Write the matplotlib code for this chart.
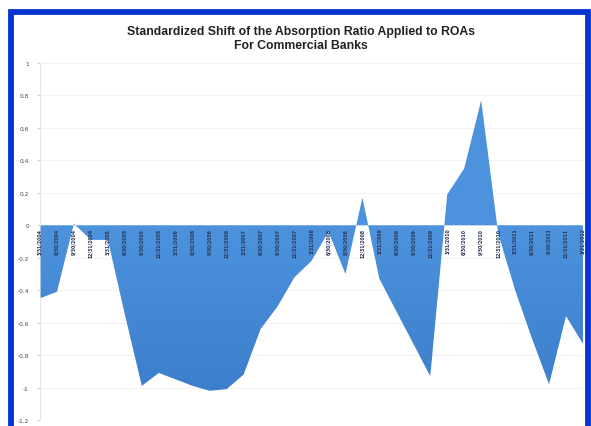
import matplotlib
matplotlib.use("Agg")
import matplotlib.pyplot as plt
from matplotlib.patches import Rectangle
from matplotlib.colors import LinearSegmentedColormap
import numpy as np

# Quarterly periods shown on the category axis
periods = [
    "3/31/2004", "6/30/2004", "9/30/2004", "12/31/2004",
    "3/31/2005", "6/30/2005", "9/30/2005", "12/31/2005",
    "3/31/2006", "6/30/2006", "9/30/2006", "12/31/2006",
    "3/31/2007", "6/30/2007", "9/30/2007", "12/31/2007",
    "3/31/2008", "6/30/2008", "9/30/2008", "12/31/2008",
    "3/31/2009", "6/30/2009", "9/30/2009", "12/31/2009",
    "3/31/2010", "6/30/2010", "9/30/2010", "12/31/2010",
    "3/31/2011", "6/30/2011", "9/30/2011", "12/31/2011",
    "3/31/2012",
]

# Standardized shift of the absorption ratio
shift = [
    -0.45, -0.41, 0.01, -0.09, -0.09, -0.55, -0.99, -0.91,
    -0.95, -0.99, -1.02, -1.01, -0.92, -0.64, -0.50, -0.32,
    -0.22, -0.04, -0.30, 0.17, -0.33, -0.53, -0.73, -0.93,
    0.19, 0.35, 0.77, -0.05, -0.40, -0.70, -0.98, -0.56,
    -0.73,
]

y_ticks = [1, 0.8, 0.6, 0.4, 0.2, 0, -0.2, -0.4, -0.6, -0.8, -1, -1.2]

W, H = 591, 427
fig = plt.figure(figsize=(W / 100, H / 100), dpi=100)
fig.patch.set_facecolor("white")

# Blue frame around the chart area
frame = Rectangle((11 / W, -0.05), (588 - 11) / W, (427 - 12.5) / H + 0.05,
                  transform=fig.transFigure, fill=False,
                  edgecolor="#0634D0", linewidth=4.2, zorder=10)
fig.patches.append(frame)

ax = fig.add_axes([40 / W, (H - 421) / H, (583 - 40) / W, (421 - 64) / H])
x = np.arange(len(shift))
ax.set_xlim(0, len(shift) - 1)
ax.set_ylim(-1.2, 1.0)

# Area fill with a soft vertical shading
area = ax.fill_between(x, shift, 0, facecolor="none", linewidth=0, zorder=2)
shade = LinearSegmentedColormap.from_list("shade", ["#3C7ECB", "#4C92DD", "#4C92DD"])
grad = np.linspace(0, 1, 256).reshape(-1, 1)
img = ax.imshow(grad, cmap=shade, origin="lower", aspect="auto",
                extent=(0, len(shift) - 1, -1.05, 1.0), zorder=2)
img.set_clip_path(area.get_paths()[0], transform=ax.transData)

ax.set_yticks(y_ticks)
ax.set_yticklabels([f"{t:g}" for t in y_ticks], fontsize=4.2, color="#444444")
ax.tick_params(axis="y", length=2, width=0.5, color="#bbbbbb", pad=6)
for t in y_ticks:
    ax.axhline(t, color="#eeeeee", linewidth=0.5, zorder=1)

for side in ("top", "right", "bottom"):
    ax.spines[side].set_visible(False)
ax.spines["left"].set_color("#dddddd")
ax.spines["left"].set_linewidth(0.5)
ax.set_xticks([])

# Category labels sit just below the zero line, rotated
for xi, lab in zip(x, periods):
    ax.text(xi, -0.015, lab, rotation=90, ha="center", va="top",
            fontsize=3.3, color="#2a3658", fontweight="bold", zorder=3)

fig.text(301 / W, (H - 32) / H,
         "Standardized Shift of the Absorption Ratio Applied to ROAs",
         ha="center", va="center", fontsize=8.8, fontweight="bold",
         family="Liberation Sans", color="#222222")
fig.text(301 / W, (H - 46) / H, "For Commercial Banks",
         ha="center", va="center", fontsize=8.8, fontweight="bold",
         family="Liberation Sans", color="#222222")

fig.savefig("out.png", dpi=100)
